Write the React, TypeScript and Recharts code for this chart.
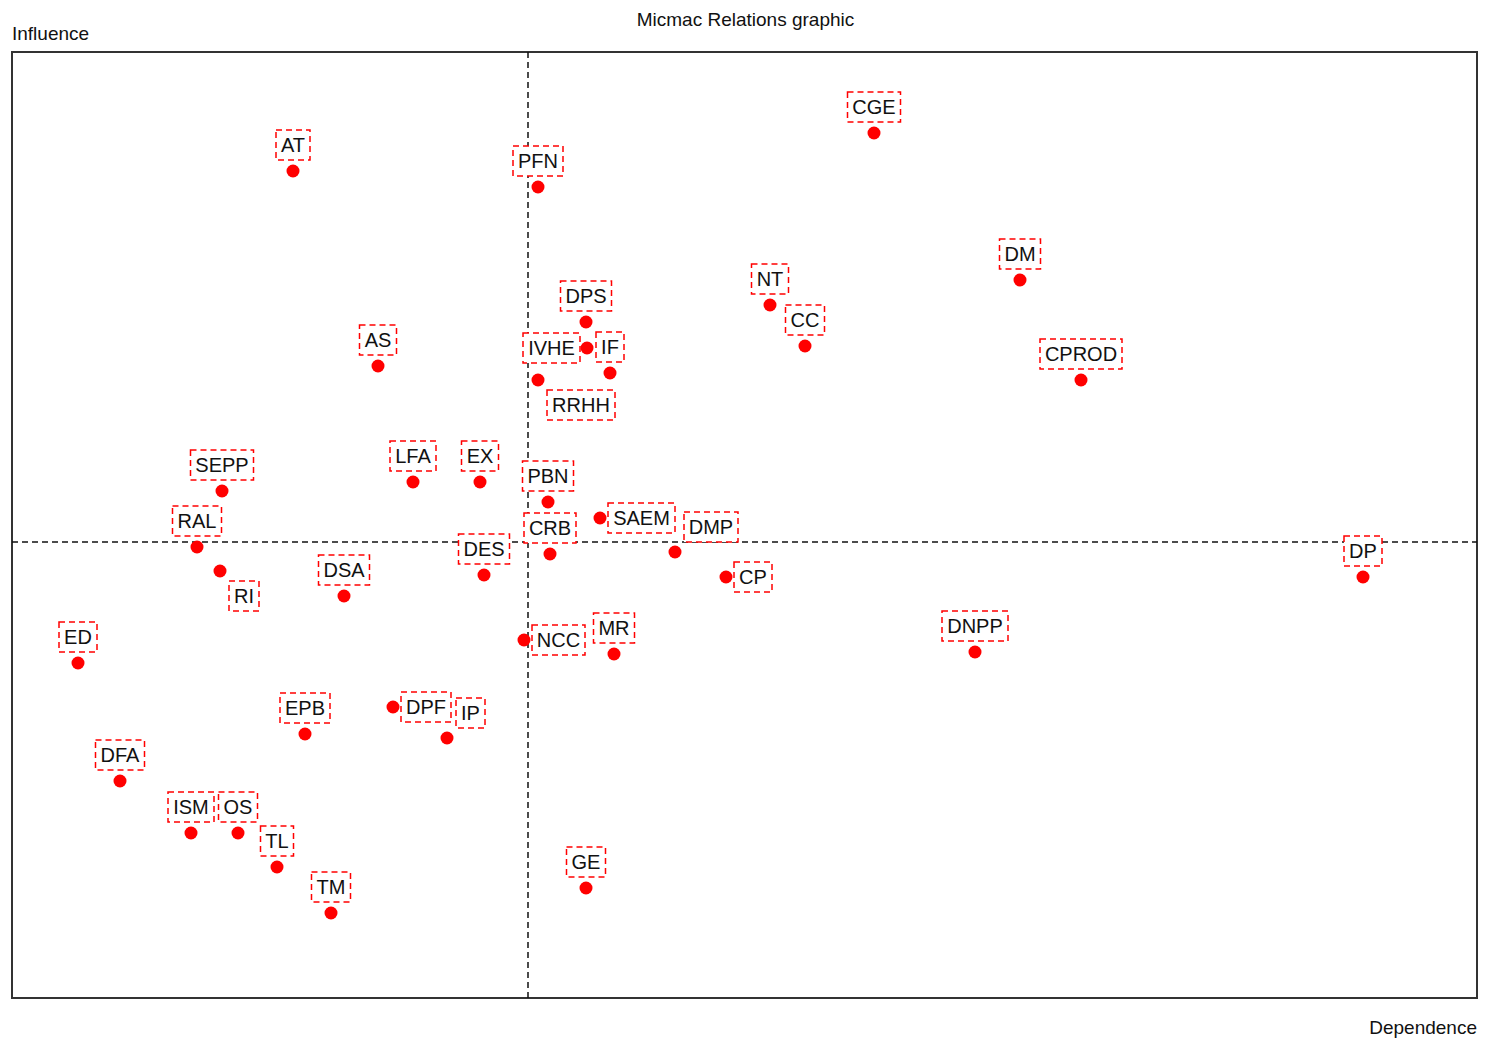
import React from "react";
import {
  ScatterChart,
  Scatter,
  XAxis,
  YAxis,
  ReferenceLine,
  ReferenceArea,
} from "recharts";

// variables of the MICMAC analysis (indirect relations)
const names = [
  "AT", "PFN", "CGE", "DM", "NT", "CC", "DPS", "IVHE", "IF", "RRHH",
  "CPROD", "AS", "SEPP", "LFA", "EX", "PBN", "RAL", "CRB", "SAEM", "DMP",
  "DES", "DP", "RI", "DSA", "CP", "ED", "NCC", "MR", "DNPP", "EPB",
  "DPF", "IP", "DFA", "ISM", "OS", "TL", "TM", "GE",
];
const dependence = [
  281, 526, 862, 1008, 758, 793, 574, 575, 598, 526,
  1069, 366, 210, 401, 468, 536, 185, 538, 588, 663,
  472, 1351, 208, 332, 714, 66, 512, 602, 963, 293,
  381, 435, 108, 179, 226, 265, 319, 574,
];
const influence = [
  827, 811, 865, 718, 693, 652, 676, 650, 625, 618,
  618, 632, 507, 516, 516, 496, 451, 444, 480, 446,
  423, 421, 427, 402, 421, 335, 358, 344, 346, 264,
  291, 260, 217, 165, 165, 131, 85, 110,
];
const meanDependence = 516;
const meanInfluence = 456;
const maxDependence = 1465;
const maxInfluence = 946;

// where the label sits relative to its point (default: above)
const labelSide: Record<string, string> = {
  IVHE: "left",
  RRHH: "bottomRight",
  SAEM: "right",
  DMP: "topRight",
  RI: "bottomRight",
  CP: "right",
  NCC: "right",
  DPF: "right",
  IP: "topRight",
};

const data = names.map((name, i) => ({
  name,
  dependence: dependence[i],
  influence: influence[i],
}));

const LABEL_FONT = '20px "Liberation Sans", Arial, sans-serif';
let measureCtx: CanvasRenderingContext2D | null = null;
const textWidth = (s: string) => {
  if (!measureCtx) {
    measureCtx = document.createElement("canvas").getContext("2d");
  }
  if (!measureCtx) return s.length * 12;
  measureCtx.font = LABEL_FONT;
  return measureCtx.measureText(s).width;
};

const PointWithLabel = (props: any) => {
  const { cx, cy, payload } = props;
  const label = payload.name;
  const w = Math.round(textWidth(label)) + 10;
  const h = 30;
  const side = labelSide[label] || "top";
  let bx = cx - w / 2;
  let by = cy - 11 - h;
  if (side === "left") {
    bx = cx - 7 - w;
    by = cy - h / 2;
  } else if (side === "right") {
    bx = cx + 8;
    by = cy - h / 2;
  } else if (side === "bottomRight") {
    bx = cx + 9;
    by = cy + 10;
  } else if (side === "topRight") {
    bx = cx + 9;
    by = cy - 10 - h;
  }
  return (
    <g>
      <rect
        x={bx}
        y={by}
        width={w}
        height={h}
        fill="#fff"
        stroke="#ff0000"
        strokeWidth={1.5}
        strokeDasharray="6 4"
      />
      <text
        x={bx + w / 2}
        y={by + 22}
        textAnchor="middle"
        fill="#111"
        style={{ font: LABEL_FONT }}
      >
        {label}
      </text>
      <circle cx={cx} cy={cy} r={6.5} fill="#ff0000" />
    </g>
  );
};

const textStyle: React.CSSProperties = {
  position: "absolute",
  fontFamily: '"Liberation Sans", Arial, sans-serif',
  fontSize: 19,
  color: "#111",
  whiteSpace: "nowrap",
  lineHeight: "22px",
};

export default function App() {
  return (
    <div
      style={{
        position: "absolute",
        left: 0,
        top: 0,
        width: 1485,
        height: 1041,
        background: "#fff",
      }}
    >
      <div style={{ ...textStyle, left: 0, width: 1491, top: 9, textAlign: "center" }}>
        Micmac Relations graphic
      </div>
      <div style={{ ...textStyle, left: 12, top: 23 }}>Influence</div>
      <div style={{ ...textStyle, right: 8, top: 1017, textAlign: "right" }}>
        Dependence
      </div>
      <ScatterChart
        width={1485}
        height={1041}
        margin={{ top: 52, right: 8, bottom: 43, left: 12 }}
      >
        <XAxis
          type="number"
          dataKey="dependence"
          domain={[0, maxDependence]}
          hide
        />
        <YAxis
          type="number"
          dataKey="influence"
          domain={[0, maxInfluence]}
          hide
        />
        <ReferenceArea
          x1={0}
          x2={maxDependence}
          y1={0}
          y2={maxInfluence}
          fill="none"
          fillOpacity={0}
          stroke="#333"
          strokeWidth={2}
        />
        <ReferenceLine
          x={meanDependence}
          stroke="#111"
          strokeWidth={1.5}
          strokeDasharray="6 4"
        />
        <ReferenceLine
          y={meanInfluence}
          stroke="#111"
          strokeWidth={1.5}
          strokeDasharray="6 4"
        />
        <Scatter
          data={data}
          shape={PointWithLabel}
          isAnimationActive={false}
        />
      </ScatterChart>
    </div>
  );
}
